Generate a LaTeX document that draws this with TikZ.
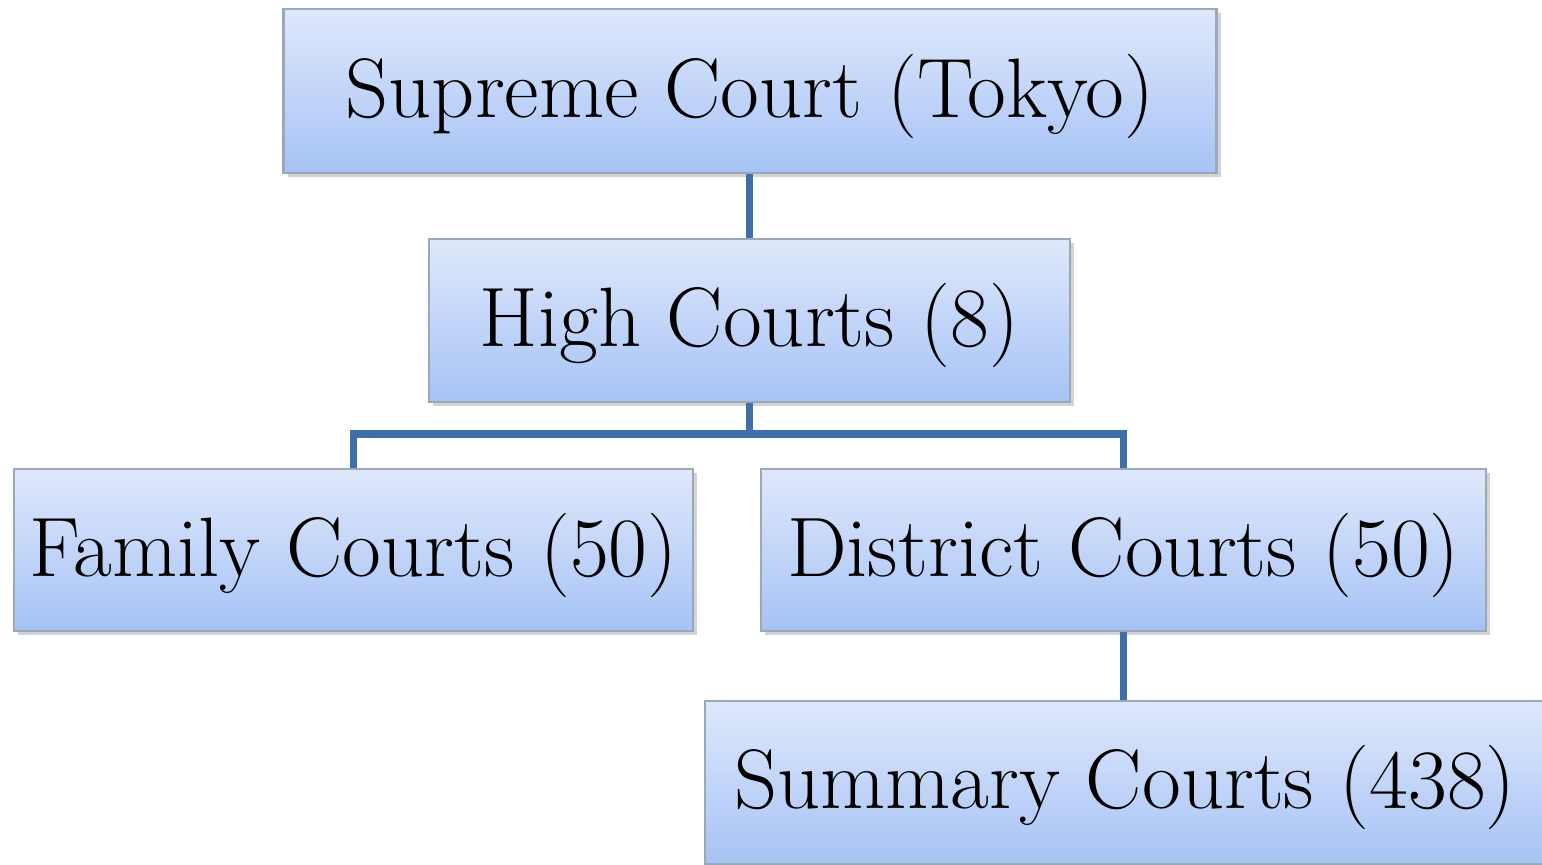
\documentclass[tikz,border=0pt]{standalone}
\usetikzlibrary{shadows}
\definecolor{boxtop}{HTML}{DFE8FB}
\definecolor{boxbottom}{HTML}{A6C3F6}
\definecolor{boxline}{HTML}{9AA8B8}
\definecolor{linkline}{HTML}{3F6FA8}
\begin{document}
\begin{tikzpicture}[x=0.01cm,y=-0.01cm,
        court/.style={draw=boxline, line width=0.6pt, top color=boxtop, bottom color=boxbottom,
            drop shadow={shadow xshift=1.2pt, shadow yshift=-1.2pt, opacity=0.35},
            inner sep=0pt, text depth=3pt, font=\fontsize{24}{28}\selectfont},
        link/.style={draw=linkline, line width=2pt}]
        \useasboundingbox (0,0) rectangle (1542,865);
        \node[court, minimum width=933*0.01cm, minimum height=164*0.01cm] (sup) at (750,91) {Supreme Court (Tokyo)};
        \node[court, minimum width=641*0.01cm, minimum height=163*0.01cm] (high) at (749.5,320.5) {High Courts (8)};
        \node[court, minimum width=679*0.01cm, minimum height=162*0.01cm] (fam) at (353.5,550) {Family Courts (50)};
        \node[court, minimum width=725*0.01cm, minimum height=162*0.01cm] (dist) at (1123.5,550) {District Courts (50)};
        \node[court, minimum width=840*0.01cm, minimum height=163*0.01cm] (sum) at (1125,782.5) {Summary Courts (438)};
        \coordinate (split) at (749.5,434);
        \draw[link] (high.north |- sup.south) -- (high.north);
        \draw[link] (high.south) -- (split) -| (fam.north);
        \draw[link] (split) -| (dist.north);
        \draw[link] (dist.south) -- (dist.south |- sum.north);
    \end{tikzpicture}
\end{document}
